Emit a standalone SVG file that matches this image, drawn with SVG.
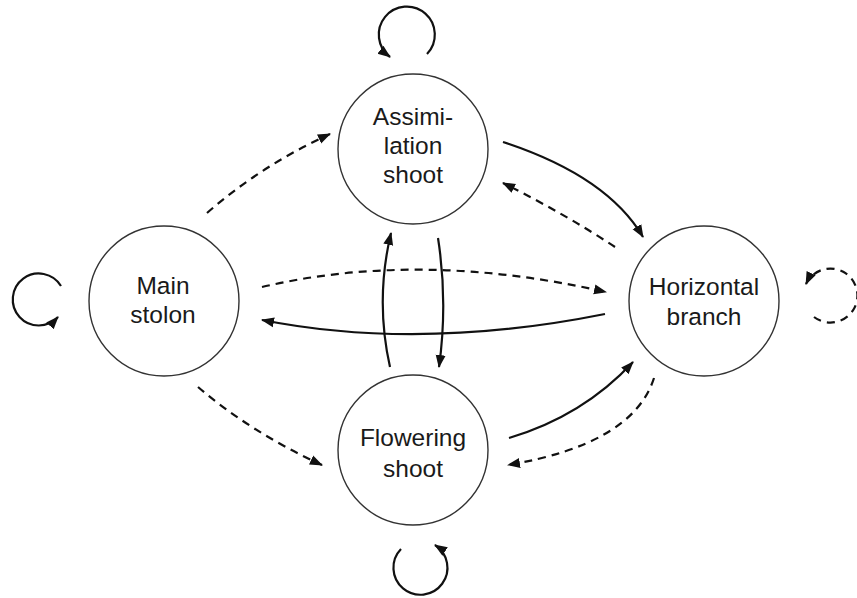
<svg xmlns="http://www.w3.org/2000/svg" width="857" height="598" viewBox="0 0 857 598">
<style>
.node{fill:#fff;stroke:#333;stroke-width:1.4}
.lbl{font-family:"Liberation Sans",Arial,sans-serif;font-size:24.5px;fill:#1a1a1a;text-anchor:middle}
.c{fill:none;stroke:#111;stroke-width:2.2}
.d{stroke-dasharray:8 6}
</style>
<defs>
<marker id="ah" markerUnits="userSpaceOnUse" markerWidth="14" markerHeight="12" refX="12" refY="5" orient="auto" viewBox="0 0 14 10">
<path d="M0,0 L13,5 L0,10 Z" fill="#111"/>
</marker>
</defs>
<g id="connectors">
<path class="c d" d="M207,213 Q262,165 330,134" marker-end="url(#ah)"/>
<path class="c d" d="M198,387 Q252,433 322,465" marker-end="url(#ah)"/>
<path class="c d" d="M262,287 Q420,250 606,292" marker-end="url(#ah)"/>
<path class="c" d="M605,314 Q420,351 262,320" marker-end="url(#ah)"/>
<path class="c" d="M503,142 Q607,176 643,237" marker-end="url(#ah)"/>
<path class="c d" d="M615,247 Q565,214 503,183" marker-end="url(#ah)"/>
<path class="c" d="M509,438 Q583,416 633,362" marker-end="url(#ah)"/>
<path class="c d" d="M654,378 Q633,444 508,465" marker-end="url(#ah)"/>
<path class="c" d="M390,367 Q375,300 391,233" marker-end="url(#ah)"/>
<path class="c" d="M438,238 Q448,302 439,367" marker-end="url(#ah)"/>
<path class="c" d="M427,54 A28,28 0 1 0 390,57" marker-end="url(#ah)"/>
<path class="c" d="M61,286 A26,26 0 1 0 58,317" marker-end="url(#ah)"/>
<path class="c d" d="M814,317 A27,27 0 1 0 806,284" marker-end="url(#ah)"/>
<path class="c" d="M401,549 A27,27 0 1 0 435,545" marker-end="url(#ah)"/>
</g>
<g id="assimilation">
<circle class="node" cx="413" cy="149" r="75"/>
<text class="lbl" x="413" y="125">Assimi-</text>
<text class="lbl" x="413" y="154">lation</text>
<text class="lbl" x="413" y="183">shoot</text>
</g>
<g id="main">
<circle class="node" cx="164" cy="301" r="75"/>
<text class="lbl" x="163" y="294">Main</text>
<text class="lbl" x="163" y="323">stolon</text>
</g>
<g id="flowering">
<circle class="node" cx="413" cy="450" r="75"/>
<text class="lbl" x="413" y="446">Flowering</text>
<text class="lbl" x="413" y="477">shoot</text>
</g>
<g id="horizontal">
<circle class="node" cx="704" cy="301" r="75"/>
<text class="lbl" x="704" y="295">Horizontal</text>
<text class="lbl" x="704" y="325">branch</text>
</g>
</svg>
